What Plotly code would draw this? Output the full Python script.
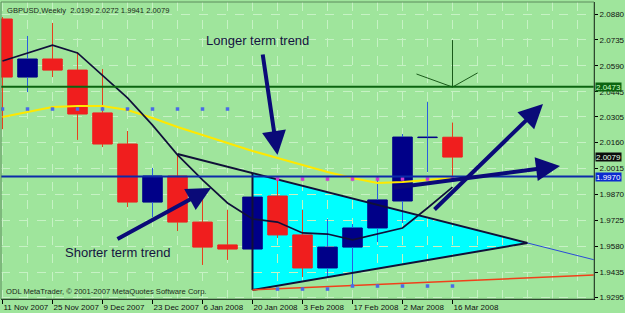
import plotly.graph_objects as go
import pandas as pd

# ---------------- data ----------------
dates = ["2007-11-11", "2007-11-18", "2007-11-25", "2007-12-02", "2007-12-09",
         "2007-12-16", "2007-12-23", "2007-12-30", "2008-01-06", "2008-01-13",
         "2008-01-20", "2008-01-27", "2008-02-03", "2008-02-10", "2008-02-17",
         "2008-02-24", "2008-03-02", "2008-03-09", "2008-03-16"]
opens = [2.0852, 2.0527, 2.0628, 2.0566, 2.0326, 2.0152, 1.9827, 1.9973, 1.9715, 1.9587,
         1.9564, 1.9861, 1.9643, 1.9458, 1.9575, 1.9682, 1.9833, 2.0188, 2.0190]
highs = [2.0863, 2.0757, 2.0830, 2.0667, 2.0572, 2.0225, 2.0018, 2.0091, 1.9895, 1.9783,
         1.9867, 1.9951, 1.9783, 1.9732, 1.9704, 1.9967, 2.0208, 2.0387, 2.0272]
lows = [2.0235, 2.0443, 2.0527, 2.0175, 2.0135, 1.9799, 1.9743, 1.9665, 1.9475, 1.9503,
        1.9553, 1.9626, 1.9407, 1.9407, 1.9363, 1.9603, 1.9710, 1.9995, 1.9941]
closes = [2.0527, 2.0628, 2.0566, 2.0320, 2.0152, 1.9827, 1.9973, 1.9715, 1.9575, 1.9564,
          1.9855, 1.9643, 1.9458, 1.9575, 1.9682, 1.9839, 2.0191, 2.0191, 2.0079]
ma_fast = [2.0617, 2.0662, 2.0706, 2.0662, 2.0538, 2.0410, 2.0258, 2.0091, 1.9951, 1.9822,
           1.9732, 1.9715, 1.9654, 1.9648, 1.9615, 1.9648, 1.9682, 1.9794, 1.9911]
ma_slow = [2.0303, 2.0331, 2.0359, 2.0365, 2.0365, 2.0342, 2.0298, 2.0247, 2.0202, 2.0158,
           2.0113, 2.0074, 2.0035, 1.9995, 1.9962, 1.9934, 1.9939, 1.9951, 1.9962]
dots_upper_idx = list(range(0, 10))
dots_upper = [2.0348] * 10
dots_mid_idx = list(range(11, 19))
dots_mid = [1.9956] * 8
dots_low_idx = list(range(11, 19))
dots_low = [1.9340, 1.9340, 1.9340, 1.9357, 1.9357, 1.9357, 1.9357, 1.9357]

tick_dates = ["2007-11-11", "2007-11-25", "2007-12-09", "2007-12-23", "2008-01-06",
              "2008-01-20", "2008-02-03", "2008-02-17", "2008-03-02", "2008-03-16"]
tick_text = ["11 Nov 2007", "25 Nov 2007", "9 Dec 2007", "23 Dec 2007", "6 Jan 2008",
             "20 Jan 2008", "3 Feb 2008", "17 Feb 2008", "2 Mar 2008", "16 Mar 2008"]
price_ticks = [2.0880, 2.0735, 2.0590, 2.0445, 2.0305, 2.0160, 2.0015, 1.9870,
               1.9725, 1.9580, 1.9435, 1.9295]

level_green = 2.0473
level_blue = 1.9970
last_close = 2.0079
title_text = "GBPUSD,Weekly  2.0190 2.0272 1.9941 2.0079"
copyright_text = "ODL MetaTrader, \u00a9 2001-2007 MetaQuotes Software Corp."

# drawn objects: (week offset from first bar, price)
tri_k = [10, 21, 10]
tri_p = [1.9990, 1.9598, 1.9335]
upper_k, upper_p = [7, 21], [2.0096, 1.9598]
lower_k, lower_p = [10, 21], [1.9335, 1.9598]
ext_k, ext_p = [21, 23.66], [1.9598, 1.9504]
red_k, red_p = [10, 23.66], [1.9335, 1.9419]
vmark_k, vmark_p = [18, 18], [2.0734, 2.0471]
vee_k, vee_p = [16.56, 18, 19], [2.0544, 2.0471, 2.0550]
arrows = [  # tail_k, tail_p, tip_k, tip_p
    (10.40, 2.0662, 11.00, 2.0091),
    (4.54, 1.9615, 8.34, 1.9906),
    (17.22, 1.9777, 21.62, 2.0376),
    (15.60, 1.9906, 22.30, 2.0029),
]
labels = [("Longer term trend", 8.06, 2.0729), ("Shorter term trend", 2.42, 1.9542)]

# ---------------- helpers ----------------
base = pd.Timestamp(dates[0])


def wk(k, sep=" "):
    return (base + pd.Timedelta(days=7 * k)).strftime("%Y-%m-%d" + sep + "%H:%M:%S")


WEEK_MS = 7 * 86400000
BG = "#9fe59c"
RED = "#f01e1e"
NAVY = "#000088"
FONT = "Liberation Sans"

fig = go.Figure()

# cyan triangle (background object, under grid and candles)
path = "M " + " L ".join(f"{wk(k, '_')},{p}" for k, p in zip(tri_k, tri_p)) + " Z"
fig.add_shape(type="path", path=path, xref="x", yref="y", fillcolor="#00ffff",
              line=dict(width=0), layer="below")

# bodies
bull = [c >= o for o, c in zip(opens, closes)]
body_col = [NAVY if b else RED for b in bull]
fig.add_trace(go.Bar(x=dates, y=[abs(c - o) for o, c in zip(opens, closes)],
                     base=[min(o, c) for o, c in zip(opens, closes)],
                     width=0.78 * WEEK_MS, marker=dict(color=body_col,
                     line=dict(color=body_col, width=1)), hoverinfo="skip"))

# wicks (outside the bodies)
for is_bull, col in ((True, "#2a5ee0"), (False, "#e8401c")):
    xs, ys = [], []
    for d, o, h, l, c, b in zip(dates, opens, highs, lows, closes, bull):
        if b == is_bull:
            xs += [d, d, None, d, d, None]
            ys += [h, max(o, c), None, min(o, c), l, None]
    fig.add_trace(go.Scatter(x=xs, y=ys, mode="lines", line=dict(color=col, width=1),
                             hoverinfo="skip"))

# triangle outline
for kk, pp in ((upper_k, upper_p), (lower_k, lower_p), ([tri_k[0], tri_k[2]], [tri_p[0], tri_p[2]])):
    fig.add_trace(go.Scatter(x=[wk(k) for k in kk], y=pp, mode="lines",
                             line=dict(color="#101038", width=2), hoverinfo="skip"))
fig.add_trace(go.Scatter(x=[wk(k) for k in ext_k], y=ext_p, mode="lines",
                         line=dict(color="#2a4ad8", width=1), hoverinfo="skip"))
fig.add_trace(go.Scatter(x=[wk(k) for k in red_k], y=red_p, mode="lines",
                         line=dict(color="#f0401a", width=1.5), hoverinfo="skip"))

# moving averages
fig.add_trace(go.Scatter(x=dates, y=ma_slow, mode="lines",
                         line=dict(color="#ffe800", width=2), hoverinfo="skip"))
fig.add_trace(go.Scatter(x=dates, y=ma_fast, mode="lines",
                         line=dict(color="#10103a", width=1.7), hoverinfo="skip"))

# dots
fig.add_trace(go.Scatter(x=[dates[i] for i in dots_upper_idx], y=dots_upper, mode="markers",
                         marker=dict(symbol="square", size=3.5, color="#4a6ae8"), hoverinfo="skip"))
fig.add_trace(go.Scatter(x=[dates[i] for i in dots_mid_idx], y=dots_mid, mode="markers",
                         marker=dict(symbol="square", size=3.5, color="#d03ad0"), hoverinfo="skip"))
fig.add_trace(go.Scatter(x=[dates[i] for i in dots_low_idx], y=dots_low, mode="markers",
                         marker=dict(symbol="square", size=3.5, color="#4a6ae8"), hoverinfo="skip"))

# green marker V
fig.add_trace(go.Scatter(x=[wk(k) for k in vmark_k], y=vmark_p, mode="lines",
                         line=dict(color="#1a5a1a", width=1), hoverinfo="skip"))
fig.add_trace(go.Scatter(x=[wk(k) for k in vee_k], y=vee_p, mode="lines",
                         line=dict(color="#1a5a1a", width=1), hoverinfo="skip"))

# horizontal levels
fig.add_hline(y=level_green, line=dict(color="#0b6410", width=2))
fig.add_hline(y=level_blue, line=dict(color="#0c2aa8", width=2))

# arrows
for tk, tp, hk, hk_p in arrows:
    fig.add_annotation(x=wk(hk), y=hk_p, ax=wk(tk), ay=tp, xref="x", yref="y",
                       axref="x", ayref="y", text="", showarrow=True,
                       arrowhead=2, arrowsize=1.2, arrowwidth=4, arrowcolor="#0a0a78")

for txt, k, p in labels:
    fig.add_annotation(x=wk(k), y=p, xref="x", yref="y", text=txt, showarrow=False,
                       xanchor="left", yanchor="middle",
                       font=dict(family=FONT, size=13, color="#141440"))

# price boxes
for val, bg, fc in ((level_green, "#0b6410", "#c8ffc8"), (last_close, "#0c0c0c", "#e8ffe8"),
                    (level_blue, "#0c2ad0", "#ffffff")):
    fig.add_annotation(x=1, y=val, xref="paper", yref="y", text=f"{val:.4f}",
                       showarrow=False, xanchor="left", yanchor="middle", xshift=1,
                       width=25, height=8, bgcolor=bg, borderpad=0,
                       font=dict(family=FONT, size=8, color=fc))

fig.add_annotation(x=0, y=1, xref="paper", yref="paper", text=title_text, showarrow=False,
                   xanchor="left", yanchor="top", xshift=4, yshift=-2,
                   font=dict(family=FONT, size=7.6, color="#1a2a1a"))
fig.add_annotation(x=0, y=0, xref="paper", yref="paper", text=copyright_text, showarrow=False,
                   xanchor="left", yanchor="bottom", xshift=3, yshift=1,
                   font=dict(family=FONT, size=7.6, color="#1a2a1a"))

# frame (top/left)
fig.add_shape(type="rect", xref="paper", yref="paper", x0=0, x1=1, y0=0, y1=1,
              line=dict(color="#5c8c5c", width=1), layer="above")

fig.update_layout(
    width=625, height=313, margin=dict(l=1, r=31, t=2, b=14),
    paper_bgcolor=BG, plot_bgcolor=BG, showlegend=False, barmode="overlay",
    xaxis=dict(type="date", range=[wk(-0.06), wk(23.66)], tickvals=tick_dates,
               ticktext=tick_text, tickangle=0, ticks="outside", ticklen=4,
               tickcolor="#000000",
               ticklabelposition="outside right", showline=True, linecolor="#000000",
               linewidth=1, showgrid=True, gridcolor="#c6f2c4", griddash="dash",
               gridwidth=1, zeroline=False,
               minor=dict(dtick=WEEK_MS, tick0=dates[0], showgrid=True,
                          gridcolor="#c6f2c4", griddash="dash", ticks=""),
               tickfont=dict(family=FONT, size=8, color="#101010")),
    yaxis=dict(side="right", range=[1.92843, 2.09472], tickvals=price_ticks,
               ticktext=[f"{v:.4f}" for v in price_ticks], ticks="outside", ticklen=3,
               tickcolor="#000000", showline=True, linecolor="#000000", linewidth=1,
               showgrid=True, gridcolor="#c6f2c4", griddash="dash", zeroline=False,
               tickfont=dict(family=FONT, size=8, color="#101010")),
)

fig.write_html("out.html")
